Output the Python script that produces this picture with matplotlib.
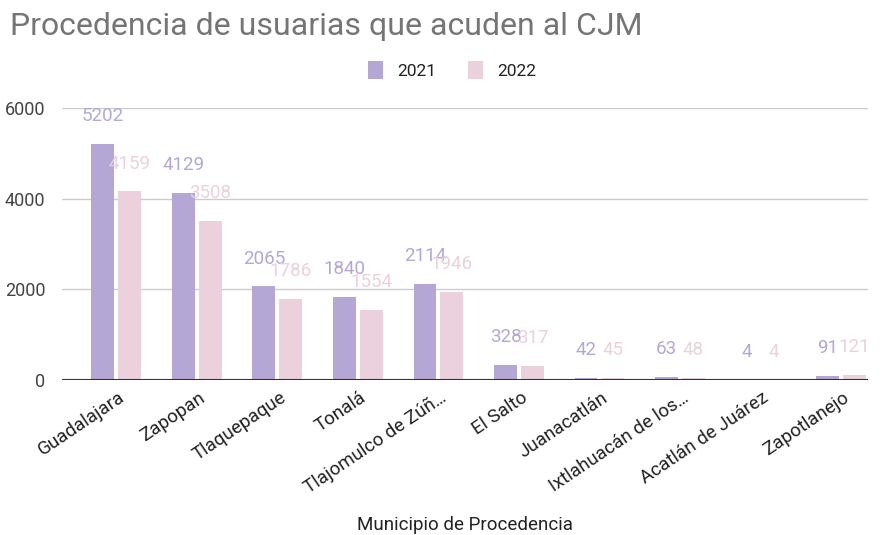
import matplotlib
matplotlib.use("Agg")
import matplotlib.pyplot as plt
import numpy as np

# datos
municipios = ["Guadalajara", "Zapopan", "Tlaquepaque", "Tonalá", "Tlajomulco de Zúñ…",
              "El Salto", "Juanacatlán", "Ixtlahuacán de los…", "Acatlán de Juárez", "Zapotlanejo"]
valores_2021 = [5202, 4129, 2065, 1840, 2114, 328, 42, 63, 4, 91]
valores_2022 = [4159, 3508, 1786, 1554, 1946, 317, 45, 48, 4, 121]
anios = ["2021", "2022"]
y_ticks = [0, 2000, 4000, 6000]

color_2021 = "#b4a7d6"
color_2022 = "#ead1dc"

plt.rcParams['font.family'] = ['Roboto', 'DejaVu Sans']

fig = plt.figure(figsize=(8.85, 5.35), dpi=100)
ax = fig.add_axes([62/885, 1-380/535, (868-62)/885, (380-108)/535])

x = np.arange(len(municipios))
w = 0.285
b1 = ax.bar(x - w/2 - 0.025, valores_2021, w, color=color_2021, label=anios[0], zorder=3)
b2 = ax.bar(x + w/2 + 0.025, valores_2022, w, color=color_2022, label=anios[1], zorder=3)

for bars, vals, col in [(b1, valores_2021, color_2021), (b2, valores_2022, color_2022)]:
    for r, v in zip(bars, vals):
        ax.annotate(str(v), (r.get_x() + r.get_width()/2, v), xytext=(0, 20),
                    textcoords="offset points", ha="center", va="center",
                    fontsize=13.5, color=col, zorder=4)

ax.set_xlim(-0.676, 9.335)
ax.set_ylim(0, 6000)
ax.set_yticks(y_ticks)
ax.set_yticklabels([str(t) for t in y_ticks])
ax.grid(axis="y", color="#cccccc", lw=1, zorder=0)
ax.axhline(0, color="#333333", lw=1.5, zorder=5)
for s in ax.spines.values():
    s.set_visible(False)
ax.tick_params(axis="y", length=0, pad=12, labelsize=13, labelcolor="#444444")
ax.tick_params(axis="x", length=0, pad=6, labelsize=13.5, labelcolor="#222222")
ax.set_xticks(x + 0.02)
ax.set_xticklabels(municipios, rotation=34, ha="right", rotation_mode="anchor")

ax.set_xlabel("Municipio de Procedencia", fontsize=13.5, color="#222222", labelpad=14)

fig.text(10/885, 1-35/535, "Procedencia de usuarias que acuden al CJM",
         fontsize=23, color="#757575", va="baseline", ha="left")

fig.legend(loc="center", bbox_to_anchor=(452/885, 1-70/535), ncol=2, frameon=False,
           fontsize=12.5, handlelength=0.9, handleheight=1.3, columnspacing=1.8,
           labelcolor="#222222")

fig.savefig("out.png", dpi=100)
